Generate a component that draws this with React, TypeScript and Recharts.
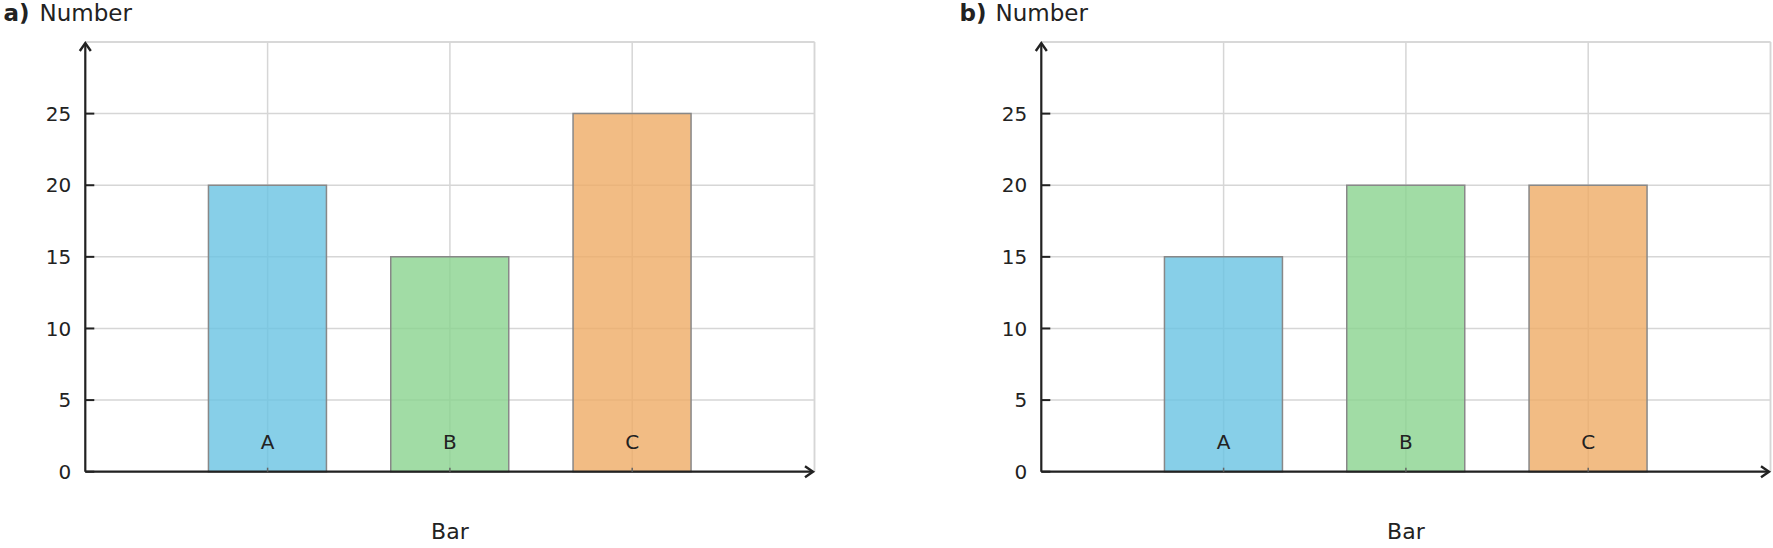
import { BarChart, Bar, XAxis, YAxis, CartesianGrid, Cell, ReferenceLine } from "recharts";

const categories = ["A", "B", "C"];
const valuesA = [20, 15, 25];
const valuesB = [15, 20, 20];
const yTicks = [0, 5, 10, 15, 20, 25];
const barColors = ["#69C3E2", "#89D38E", "#EFAB65"];

const FONT = "DejaVu Sans, Verdana, sans-serif";
const INK = "#222";
const GRID = "#d6d6d6";

// y axis drawn as a reference line so it can carry an arrow head at the top
const yAxisArrow = (p: any) => {
  const top = Math.min(p.y1, p.y2);
  const bot = Math.max(p.y1, p.y2);
  const x = p.x1;
  return (
    <g>
      <line x1={x} y1={bot} x2={x} y2={top + 1} stroke={INK} strokeWidth={2.2} />
      <polyline
        points={`${x - 5.5},${top + 9} ${x},${top + 1} ${x + 5.5},${top + 9}`}
        fill="none"
        stroke={INK}
        strokeWidth={2.4}
        strokeLinejoin="miter"
      />
    </g>
  );
};

const xAxisArrow = (p: any) => {
  const left = Math.min(p.x1, p.x2);
  const right = Math.max(p.x1, p.x2) - 1.5;
  const y = p.y1;
  return (
    <g>
      <line x1={left} y1={y} x2={right} y2={y} stroke={INK} strokeWidth={2.2} />
      <polyline
        points={`${right - 8},${y - 5.5} ${right},${y} ${right - 8},${y + 5.5}`}
        fill="none"
        stroke={INK}
        strokeWidth={2.4}
        strokeLinejoin="miter"
      />
    </g>
  );
};

const YTick = (p: any) => {
  const axisX = p.x + 14;
  return (
    <g>
      <line x1={axisX} x2={axisX + 9} y1={p.y} y2={p.y} stroke={INK} strokeWidth={2} />
      <text x={p.x} y={p.y} dy="0.36em" textAnchor="end" fontSize={20} fontFamily={FONT} fill={INK}>
        {p.payload.value}
      </text>
    </g>
  );
};

const XTick = (p: any) => {
  const name = categories[Math.round(p.payload.value) - 1];
  return (
    <g>
      <line x1={p.x} x2={p.x} y1={p.y} y2={p.y - 4} stroke="#666" strokeWidth={1.5} />
      <text x={p.x} y={p.y - 30} dy="0.36em" textAnchor="middle" fontSize={20} fontFamily={FONT} fill={INK}>
        {name}
      </text>
    </g>
  );
};

const Panel = ({ tag, values, left }: { tag: string; values: number[]; left: number }) => {
  const data = categories.map((name, i) => ({ name, pos: i + 1, value: values[i] }));
  return (
    <div style={{ position: "absolute", left, top: 0 }}>
      <BarChart width={817} height={548} data={data} margin={{ top: 42, right: 2.5, bottom: 0, left: 25.3 }}>
        <CartesianGrid stroke={GRID} strokeWidth={1.5} />
        <XAxis
          dataKey="pos"
          type="number"
          domain={[0, categories.length + 1]}
          ticks={data.map(d => d.pos)}
          height={76.3}
          axisLine={false}
          tickLine={false}
          tickSize={0}
          tickMargin={0}
          tick={<XTick />}
          label={{ value: "Bar", position: "insideBottom", offset: 9, fontSize: 22, fill: INK, fontFamily: FONT }}
        />
        <YAxis
          type="number"
          domain={[0, 30]}
          ticks={yTicks}
          width={60}
          axisLine={false}
          tickLine={false}
          tickSize={0}
          tickMargin={14}
          tick={<YTick />}
          label={{
            content: () => (
              <text y={20.5} fontSize={23} fontFamily={FONT} fill={INK}>
                <tspan x={3.5} fontWeight="bold">{tag}</tspan>
                <tspan x={39.5}>Number</tspan>
              </text>
            ),
          }}
        />
        <Bar dataKey="value" barSize={118} stroke="#888" strokeWidth={1.5} fillOpacity={0.8} isAnimationActive={false}>
          {data.map((d, i) => (
            <Cell key={d.name} fill={barColors[i]} />
          ))}
        </Bar>
        <ReferenceLine y={30} stroke={GRID} strokeWidth={1.5} />
        <ReferenceLine x={categories.length + 1} stroke={GRID} strokeWidth={1.5} />
        <ReferenceLine x={0} shape={yAxisArrow} />
        <ReferenceLine y={0} shape={xAxisArrow} />
      </BarChart>
    </div>
  );
}

export default function App() {
  return (
    <div style={{ position: "absolute", left: 0, top: 0, width: 1773, height: 548, background: "#fff" }}>
      <Panel tag="a)" values={valuesA} left={0} />
      <Panel tag="b)" values={valuesB} left={955.7} />
    </div>
  );
}
